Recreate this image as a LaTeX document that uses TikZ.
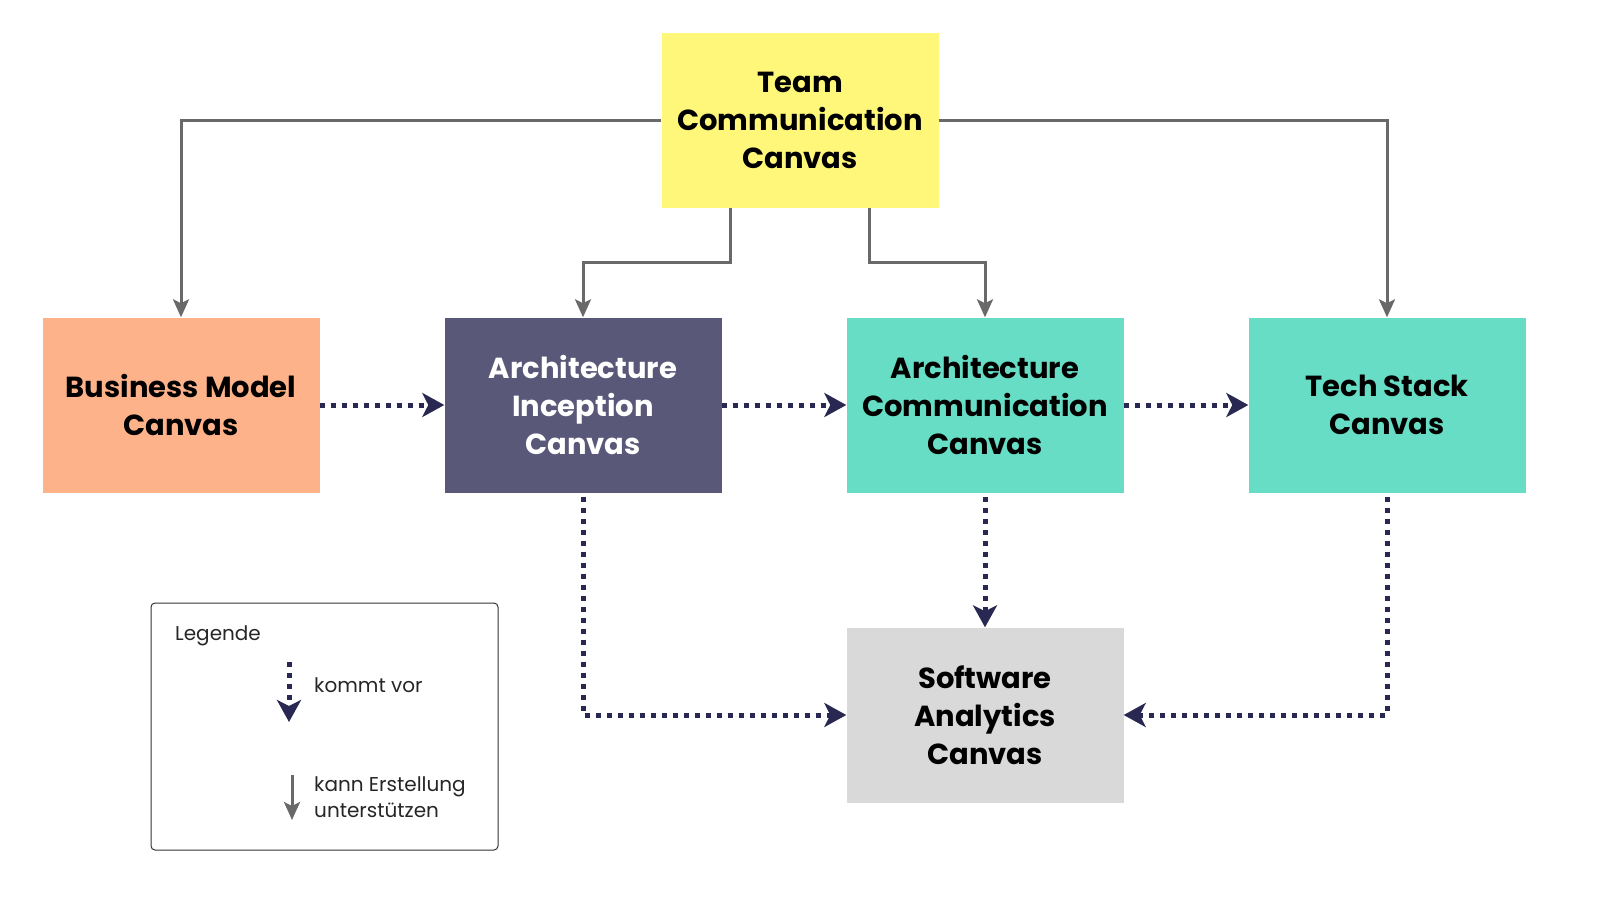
\documentclass[tikz,border=0pt]{standalone}
\usepackage{fontspec}
\setmainfont{Poppins}
\usetikzlibrary{arrows.meta}
\definecolor{lemon}{RGB}{255,247,122}
\definecolor{apricot}{RGB}{253,178,138}
\definecolor{slate}{RGB}{90,88,120}
\definecolor{aqua}{RGB}{102,221,196}
\definecolor{silver}{RGB}{217,217,217}
\definecolor{navy}{RGB}{40,40,82}
\definecolor{steel}{RGB}{105,105,105}

\tikzset{
  canvas/.style={minimum width=277pt, minimum height=175pt, inner sep=0pt, align=center,
                 font=\fontsize{29}{38}\selectfont\bfseries, text=black},
  support/.style={draw=steel, line width=3pt, -{Stealth[length=18pt, width=16pt, inset=4pt]}},
  precedes/.style={draw=navy, line width=5pt, dash pattern=on 5pt off 6pt,
                   -{Stealth[length=22pt, width=24pt, inset=6pt, sep=0pt]}},
  legendtext/.style={font=\fontsize{20}{26}\selectfont, text=black!85, inner sep=0pt, align=left}
}

\begin{document}
\begin{tikzpicture}[x=1pt, y=-1pt]
  \useasboundingbox (0,0) rectangle (1600,900);
  % canvases
  \node[canvas, fill=lemon]               (tcc) at ( 800,120) {Team\\Communication\\Canvas};
  \node[canvas, fill=apricot]             (bmc) at ( 181,405) {Business Model\\Canvas};
  \node[canvas, fill=slate, text=white]   (aic) at ( 583,405) {Architecture\\Inception\\Canvas};
  \node[canvas, fill=aqua]                (acc) at ( 985,405) {Architecture\\Communication\\Canvas};
  \node[canvas, fill=aqua]                (tsc) at (1387,405) {Tech Stack\\Canvas};
  \node[canvas, fill=silver]              (sac) at ( 985,715) {Software\\Analytics\\Canvas};

  % kann Erstellung unterstuetzen
  \draw[support] (tcc.west) -| (bmc.north);
  \draw[support] (tcc.east) -| (tsc.north);
  \draw[support] ([xshift=-70pt]tcc.south) -- ++(0,55) -| (aic.north);
  \draw[support] ([xshift=69pt]tcc.south) -- ++(0,55) -| (acc.north);

  % kommt vor
  \draw[precedes] (bmc.east) -- (aic.west);
  \draw[precedes] (aic.east) -- (acc.west);
  \draw[precedes] (acc.east) -- (tsc.west);
  \draw[precedes] ([yshift=-4pt]acc.south) -- (sac.north);
  \draw[precedes] ([yshift=-4pt]aic.south) |- (sac.west);
  \draw[precedes] ([yshift=-4pt]tsc.south) |- (sac.east);

  % legend
  \node[draw=black!80, line width=1pt, rounded corners=4pt, minimum width=347pt, minimum height=247pt] (legend) at (324.5,726.5) {};
  \node[legendtext, anchor=west] (lgtitle) at (175,636) {Legende};
  \coordinate (kvtop) at (289,662);
  \coordinate (kvend) at (289,722);
  \coordinate (ketop) at (292,775);
  \coordinate (keend) at (292,820);
  \draw[precedes] (kvtop) -- (kvend);
  \draw[support] (ketop) -- (keend);
  \node[legendtext, anchor=west] (kvtext) at (314,685) {kommt vor};
  \node[legendtext, anchor=west] (ketext) at (314,797) {kann Erstellung\\unterstützen};
\end{tikzpicture}
\end{document}
